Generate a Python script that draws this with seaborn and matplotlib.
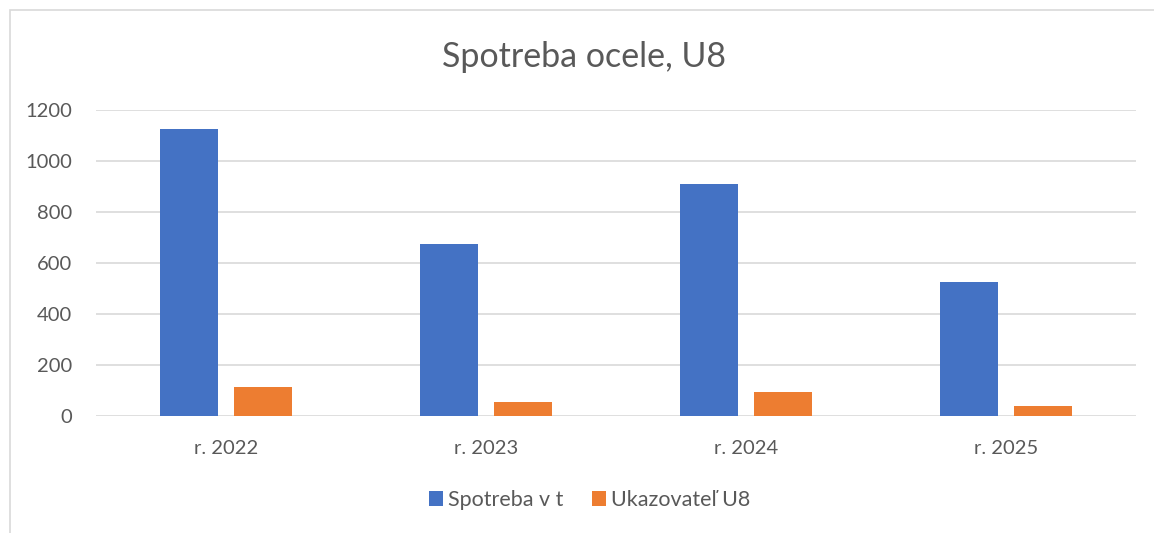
import matplotlib
matplotlib.use("Agg")
import matplotlib.pyplot as plt
import seaborn as sns
import pandas as pd
from matplotlib.patches import Rectangle

# data
years = ["r. 2022", "r. 2023", "r. 2024", "r. 2025"]
spotreba = [1124, 675, 910, 527]
ukazovatel = [112, 55, 93, 41]
series_names = ["Spotreba v t", "Ukazovateľ U8"]
colors = ["#4472C4", "#ED7D31"]

df = pd.DataFrame({
    "rok": years * 2,
    "hodnota": spotreba + ukazovatel,
    "séria": [series_names[0]] * len(years) + [series_names[1]] * len(years),
})

sns.set_theme(style="white")
plt.rcParams["font.family"] = ["Lato", "DejaVu Sans"]
text_color = "#595959"

fig = plt.figure(figsize=(11.54, 5.33), dpi=100)
ax = fig.add_axes([0.0832, 0.2195, 0.9012, 0.5741])

sns.barplot(data=df, x="rok", y="hodnota", hue="séria", palette=colors,
            saturation=1, width=0.569, gap=0.216, linewidth=0,
            ax=ax, legend=True)

ax.set_ylim(0, 1200)
ax.set_xlim(-0.5, 3.5)
ax.set_yticks(range(0, 1201, 200))
ax.yaxis.grid(True, color="#d9d9d9", linewidth=1.2)
ax.set_axisbelow(True)
for s in ax.spines.values():
    s.set_visible(False)
ax.set_xlabel("")
ax.set_ylabel("")
ax.tick_params(axis="both", length=0, labelsize=14.5, colors=text_color)
ax.tick_params(axis="x", pad=17)
ax.tick_params(axis="y", pad=17)

fig.text(0.506, 0.893, "Spotreba ocele, U8", ha="center", va="center",
         fontsize=24.5, color=text_color)

handles, labels = ax.get_legend_handles_labels()
ax.legend_.remove()
fig.legend(handles, labels, loc="center", bbox_to_anchor=(0.511, 0.062),
           ncol=2, frameon=False, fontsize=15.5, labelcolor=text_color,
           handlelength=0.65, handleheight=0.65, handletextpad=0.25,
           columnspacing=1.3)

# chart area border
fig.patches.append(Rectangle((10 / 1154, -0.01), 1.2, 1 - 10 / 533 + 0.01,
                             transform=fig.transFigure, fill=False,
                             edgecolor="#d9d9d9", linewidth=1.2))

fig.savefig("out.png", dpi=100)
